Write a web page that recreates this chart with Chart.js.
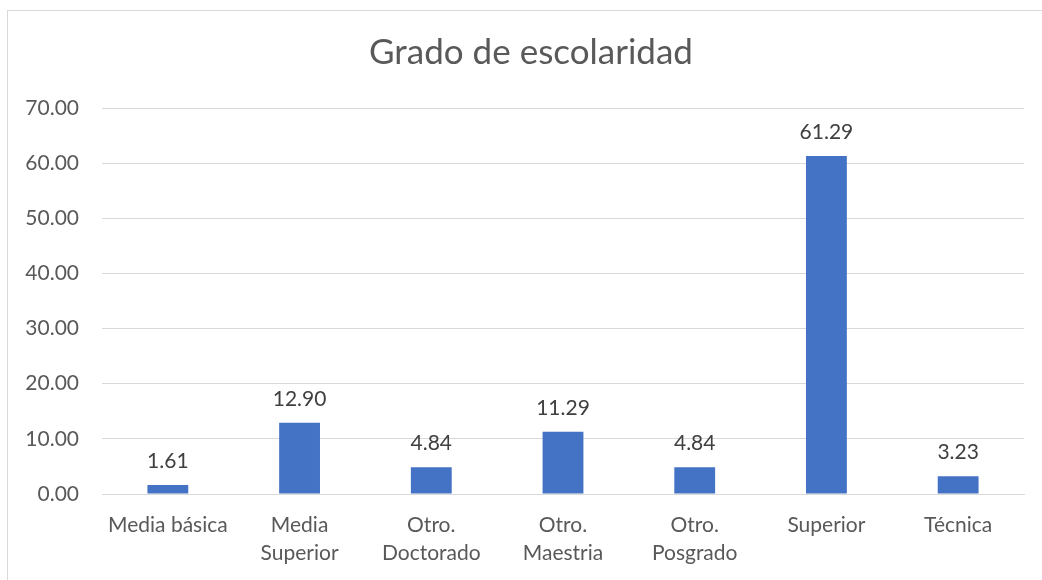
<!DOCTYPE html>
<html><head><meta charset="utf-8">
<script src="https://cdn.jsdelivr.net/npm/chart.js@4/dist/chart.umd.min.js"></script>
<style>
html,body{margin:0;padding:0;background:#fff;overflow:hidden;}
#wrap{position:absolute;left:0;top:0;width:1042px;height:580px;}
#frame{position:absolute;left:7px;top:10px;width:1100px;height:700px;border:1px solid #d9d9d9;}
canvas{position:absolute;left:0;top:0;}
</style></head>
<body><div id="wrap"><div id="frame"></div><canvas id="c" width="1042" height="580"></canvas></div>
<script>
const categories = ["Media básica", ["Media","Superior"], ["Otro.","Doctorado"], ["Otro.","Maestria"], ["Otro.","Posgrado"], "Superior", "Técnica"];
const values = [1.61, 12.90, 4.84, 11.29, 4.84, 61.29, 3.23];
const yTicks = [0, 10, 20, 30, 40, 50, 60, 70];
const titleText = "Grado de escolaridad";

const FONT = "Lato, 'Open Sans', sans-serif";

const labelPlugin = {
  id: 'valueLabels',
  afterDatasetsDraw(chart) {
    const ctx = chart.ctx;
    const meta = chart.getDatasetMeta(0);
    ctx.save();
    ctx.font = "21px " + FONT;
    ctx.fillStyle = "#404040";
    ctx.textAlign = "center";
    ctx.textBaseline = "middle";
    meta.data.forEach((bar, i) => {
      ctx.fillText(values[i].toFixed(2), bar.x, bar.y - 24);
    });
    ctx.restore();
  }
};

const titlePlugin = {
  id: 'centeredTitle',
  afterDraw(chart) {
    const ctx = chart.ctx;
    ctx.save();
    ctx.font = "35px " + FONT;
    ctx.fillStyle = "#595959";
    ctx.textAlign = "center";
    ctx.textBaseline = "middle";
    ctx.fillText(titleText, 531, 53);
    ctx.restore();
  }
};

new Chart(document.getElementById('c'), {
  type: 'bar',
  data: {
    labels: categories,
    datasets: [{
      data: values,
      backgroundColor: '#4472C4',
      barPercentage: 0.31,
      categoryPercentage: 1.0
    }]
  },
  options: {
    responsive: false,
    animation: false,
    devicePixelRatio: 1,
    layout: { padding: { left: 0, right: 18, top: 108, bottom: 0 } },
    plugins: {
      legend: { display: false },
      tooltip: { enabled: false },
      title: { display: false }
    },
    scales: {
      x: {
        grid: { display: false, drawTicks: false },
        border: { color: '#d9d9d9', width: 1 },
        ticks: {
          color: '#595959',
          font: { family: FONT, size: 21, lineHeight: 1.33 },
          padding: 17,
          maxRotation: 0,
          autoSkip: false
        },
        afterFit(s) { s.height = 86; }
      },
      y: {
        min: 0, max: 70,
        afterBuildTicks(s) { s.ticks = yTicks.map(v => ({ value: v })); },
        grid: { color: '#d9d9d9', drawTicks: false },
        border: { display: false },
        ticks: {
          color: '#595959',
          font: { family: FONT, size: 21 },
          padding: 23,
          callback: v => Number(v).toFixed(2)
        },
        afterFit(s) { s.width = 102; }
      }
    }
  },
  plugins: [labelPlugin, titlePlugin]
});
</script></body></html>
